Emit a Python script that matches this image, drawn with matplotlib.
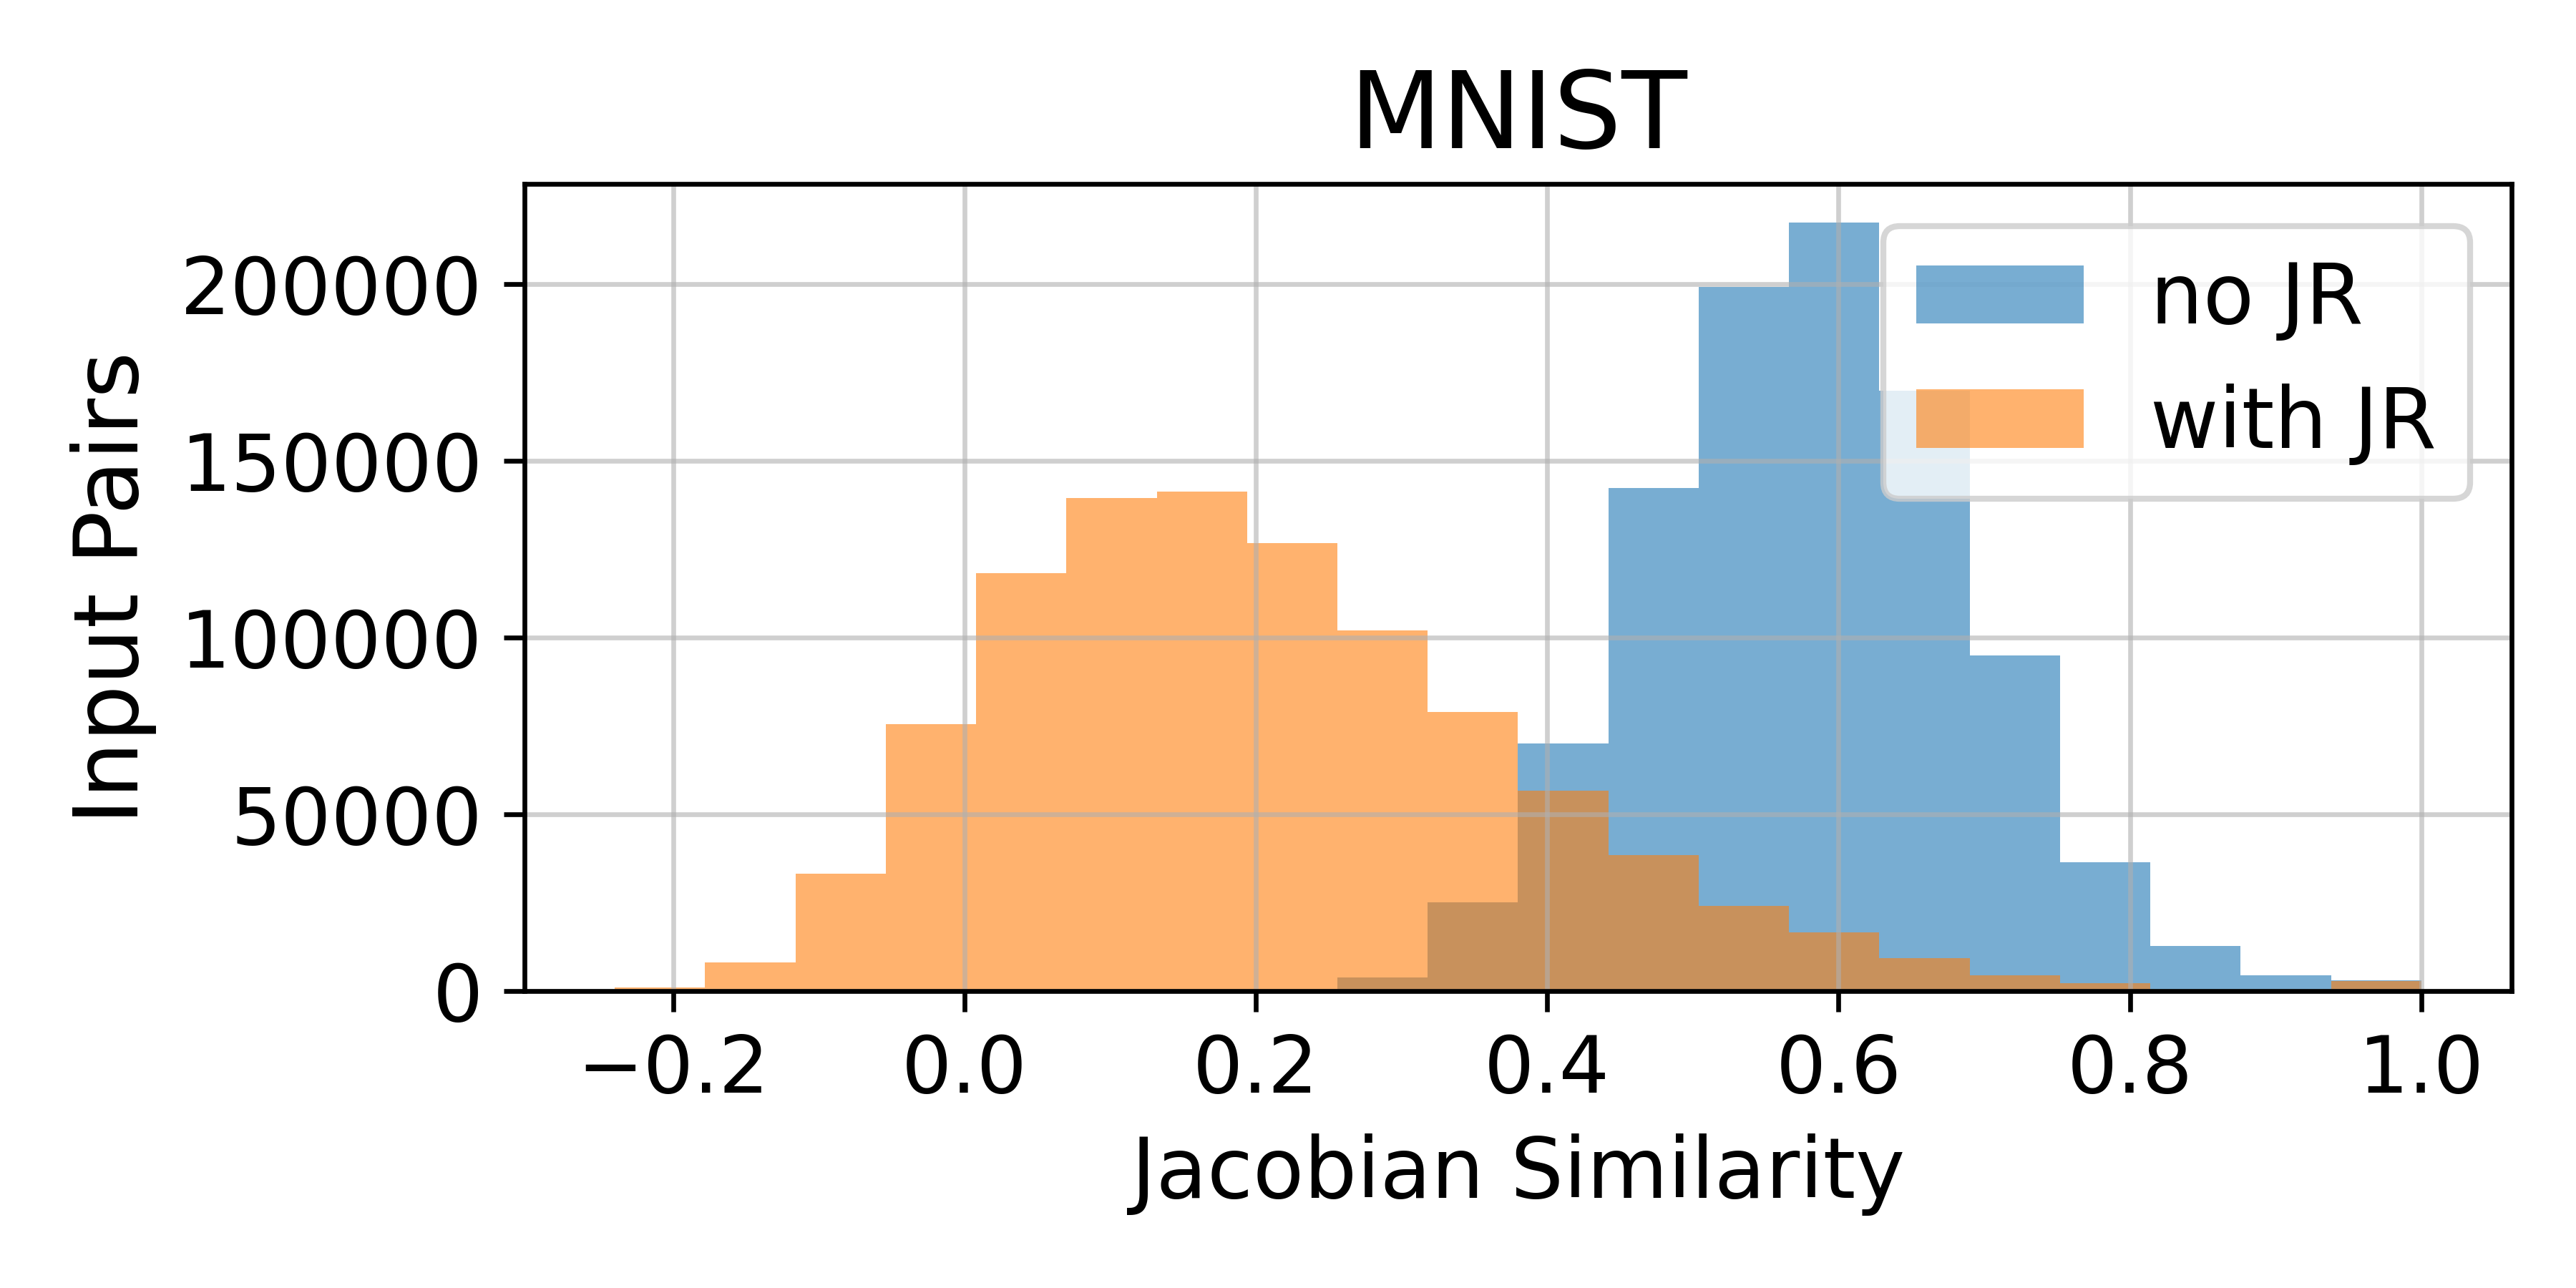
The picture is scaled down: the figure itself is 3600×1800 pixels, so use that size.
import matplotlib
matplotlib.use('Agg')
import matplotlib.pyplot as plt
from matplotlib.ticker import MultipleLocator
import numpy as np

# histogram of jacobian similarity for input pairs (MNIST), counts read per bin
bin_edges = np.linspace(-0.24, 1.0, 21)

no_jr   = [0, 0, 0, 0, 0, 0, 0, 0, 3800, 25100,
           70100, 142300, 199300, 217500, 169900, 94900, 36400, 12700, 4450, 3000]
with_jr = [900, 8100, 33300, 75500, 118300, 139500, 141400, 126800, 102100, 78900,
           56600, 38400, 24000, 16600, 9200, 4450, 2300, 0, 0, 2800]

labels = ['no JR', 'with JR']

plt.rcParams['font.size'] = 14

bin_centers = 0.5*(bin_edges[:-1] + bin_edges[1:])

fig, ax = plt.subplots(figsize=(6, 3), dpi=600)

ax.hist(bin_centers, bins=bin_edges, weights=no_jr, alpha=0.6, label=labels[0])
ax.hist(bin_centers, bins=bin_edges, weights=with_jr, alpha=0.6, label=labels[1])

ax.yaxis.set_major_locator(MultipleLocator(50000))
ax.tick_params(labelsize=13.3)
ax.grid(alpha=0.6)
ax.set_title('MNIST', fontsize=18)
ax.set_xlabel('Jacobian Similarity', fontsize=14)
ax.set_ylabel('Input Pairs', fontsize=15)
ax.legend(loc='upper right', fontsize=14)

plt.subplots_adjust(left=0.2036, right=0.975, top=0.857, bottom=0.2306)
plt.savefig('out.png', dpi=600)
